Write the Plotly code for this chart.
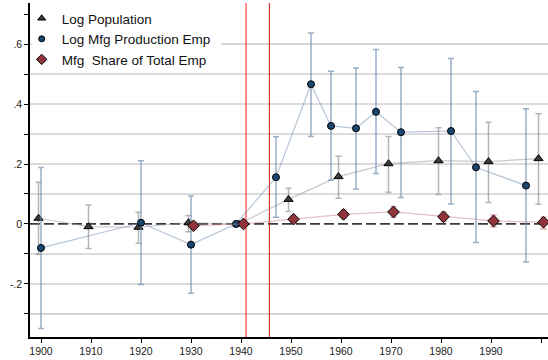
import plotly.graph_objects as go

# Log population (census years, drawn slightly left of the decade)
pop_years = [1899.5, 1909.5, 1919.5, 1929.5, 1939.5, 1949.5, 1959.5, 1969.5, 1979.5, 1989.5, 1999.5]
pop_coef = [0.019, -0.009, -0.011, 0.004, 0.0, 0.082, 0.158, 0.201, 0.211, 0.208, 0.218]
pop_hi = [0.139, 0.063, 0.039, 0.028, 0.0, 0.119, 0.226, 0.292, 0.321, 0.339, 0.368]
pop_lo = [-0.101, -0.082, -0.064, -0.026, 0.0, 0.042, 0.086, 0.106, 0.098, 0.072, 0.066]

# Log manufacturing production employment (Census of Manufactures years)
emp_years = [1900, 1920, 1930, 1939, 1947, 1954, 1958, 1963, 1967, 1972, 1982, 1987, 1997]
emp_coef = [-0.080, 0.004, -0.069, 0.0, 0.156, 0.466, 0.327, 0.319, 0.374, 0.306, 0.310, 0.189, 0.128]
emp_hi = [0.188, 0.211, 0.093, 0.0, 0.291, 0.637, 0.509, 0.520, 0.582, 0.522, 0.552, 0.442, 0.384]
emp_lo = [-0.349, -0.202, -0.231, 0.0, 0.022, 0.292, 0.147, 0.117, 0.168, 0.088, 0.067, -0.062, -0.127]

# Manufacturing share of total employment
share_years = [1930.5, 1940.5, 1950.5, 1960.5, 1970.5, 1980.5, 1990.5, 2000.5]
share_coef = [-0.006, 0.0, 0.016, 0.032, 0.040, 0.024, 0.010, 0.006]
share_hi = [0.004, 0.0, 0.024, 0.047, 0.058, 0.040, 0.030, 0.022]
share_lo = [-0.016, 0.0, 0.008, 0.020, 0.022, 0.008, -0.009, -0.016]

event_years = [1941.0, 1945.67]
x_ticks = [1900, 1910, 1920, 1930, 1940, 1950, 1960, 1970, 1980, 1990, 2000]
y_ticks = [-0.3, -0.2, -0.1, 0.0, 0.1, 0.2, 0.3, 0.4, 0.5, 0.6, 0.7]
y_labels = ["", "-.2", "", "0", "", ".2", "", ".4", "", ".6", ""]
grid_levels = [-0.3, -0.2, -0.1, 0.1, 0.2, 0.3, 0.4, 0.5, 0.6]

FONT = "Liberation Sans, Arial, sans-serif"


def err(v, hi, lo):
    return dict(type="data", symmetric=False,
                array=[h - c for h, c in zip(hi, v)],
                arrayminus=[c - l for c, l in zip(v, lo)])


series = [
    dict(name="Log Population", x=pop_years, y=pop_coef, hi=pop_hi, lo=pop_lo,
         symbol="triangle-up", size=8, fill="#3c3c3c",
         line="rgba(150,150,150,0.5)", bar="rgba(150,150,150,0.7)"),
    dict(name="Log Mfg Production Emp", x=emp_years, y=emp_coef, hi=emp_hi, lo=emp_lo,
         symbol="circle", size=7, fill="#1a476f",
         line="rgba(110,140,175,0.5)", bar="rgba(110,140,175,0.7)"),
    dict(name="Mfg  Share of Total Emp", x=share_years, y=share_coef, hi=share_hi, lo=share_lo,
         symbol="diamond", size=9, fill="#90353b",
         line="rgba(200,130,135,0.5)", bar="rgba(215,130,140,0.75)"),
]

fig = go.Figure()

for s in series:
    e = err(s["y"], s["hi"], s["lo"])
    e.update(color=s["bar"], thickness=1.5, width=3)
    fig.add_trace(go.Scatter(
        x=s["x"], y=s["y"], mode="lines+markers", showlegend=False,
        line=dict(color=s["line"], width=1.2),
        marker=dict(symbol=s["symbol"], size=s["size"], color=s["fill"],
                    line=dict(color="black", width=1)),
        error_y=e,
    ))

# legend entries
for s in series:
    fig.add_trace(go.Scatter(
        x=[None], y=[None], mode="markers", name=s["name"],
        marker=dict(symbol=s["symbol"], size=s["size"] - 1, color=s["fill"],
                    line=dict(color="black", width=1)),
    ))

shapes = []
for g in grid_levels:
    shapes.append(dict(type="line", xref="paper", x0=0, x1=1, yref="y", y0=g, y1=g,
                       line=dict(color="#cfcfcf", width=1.6), layer="below"))
# white panel behind the legend, inside the plot area
shapes.append(dict(type="rect", xref="paper", x0=0.003, x1=0.369, yref="paper", y0=0.805, y1=1,
                   fillcolor="white", line=dict(width=0), layer="below"))
shapes.append(dict(type="line", xref="paper", x0=0, x1=1, yref="y", y0=0, y1=0,
                   line=dict(color="#3a3a3a", width=1.8, dash="10px,4px"), layer="below"))
shapes.append(dict(type="line", xref="x", x0=event_years[0], x1=event_years[0],
                   yref="paper", y0=0, y1=1,
                   line=dict(color="rgba(255,60,60,0.6)", width=2), layer="below"))
shapes.append(dict(type="line", xref="x", x0=event_years[1], x1=event_years[1],
                   yref="paper", y0=0, y1=1,
                   line=dict(color="#d01010", width=1), layer="below"))

fig.update_layout(
    width=548, height=360,
    margin=dict(l=30, r=0, t=3, b=23),
    paper_bgcolor="white", plot_bgcolor="white",
    font=dict(family=FONT, color="#222222"),
    shapes=shapes,
    showlegend=True,
    legend=dict(x=-0.016, y=1.0, xanchor="left", yanchor="top",
                bgcolor="rgba(0,0,0,0)", borderwidth=0,
                font=dict(size=13.5, family=FONT, color="#111111"),
                itemwidth=30, tracegroupgap=0),
    xaxis=dict(range=[1897.8, 2001.4], tickvals=x_ticks,
               ticks="outside", ticklen=4, tickwidth=1, tickcolor="black",
               showline=True, linecolor="black", linewidth=1.5,
               showgrid=False, zeroline=False,
               tickfont=dict(size=10.5, family=FONT, color="#222222")),
    yaxis=dict(range=[-0.377, 0.737], tickvals=y_ticks, ticktext=y_labels,
               ticks="outside", ticklen=4, tickwidth=1, tickcolor="black",
               showline=True, linecolor="black", linewidth=1.5,
               showgrid=False, zeroline=False,
               tickfont=dict(size=10.5, family=FONT, color="#222222")),
)

fig.write_html("out.html")
